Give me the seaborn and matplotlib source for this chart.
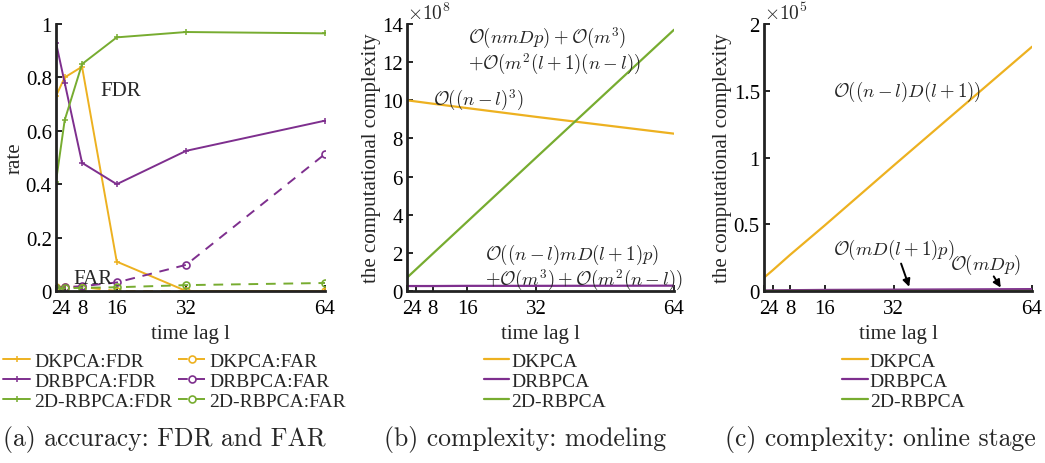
import matplotlib
matplotlib.use("Agg")
import matplotlib.pyplot as plt
import seaborn as sns

# time lag values on the x axis
lags = [2, 4, 8, 16, 32, 64]
lag_ticks = ["2", "4", "8", "16", "32", "64"]

# (a) accuracy
dkpca_fdr = [0.73, 0.80, 0.84, 0.11, 0.0, 0.0]
drbpca_fdr = [0.93, 0.78, 0.48, 0.40, 0.525, 0.638]
rbpca2d_fdr = [0.41, 0.64, 0.85, 0.95, 0.97, 0.965]
dkpca_far = [0.015, 0.016, 0.015, 0.0, 0.0, 0.0]
drbpca_far = [0.012, 0.014, 0.018, 0.032, 0.098, 0.513]
rbpca2d_far = [0.010, 0.010, 0.012, 0.014, 0.022, 0.030]

# (b) modeling complexity (x 1e8)
dkpca_model = [10.0, 9.94, 9.82, 9.59, 9.13, 8.25]
drbpca_model = [0.26, 0.26, 0.26, 0.27, 0.27, 0.28]
rbpca2d_model = [0.70, 1.12, 1.96, 3.64, 7.00, 13.70]

# (c) online complexity (x 1e5)
dkpca_online = [0.10, 0.155, 0.27, 0.49, 0.94, 1.83]
drbpca_online = [0.004, 0.005, 0.006, 0.008, 0.010, 0.014]
rbpca2d_online = [0.002, 0.002, 0.002, 0.002, 0.002, 0.002]

methods = ["DKPCA", "DRBPCA", "2D-RBPCA"]
colors = ["#EDB120", "#7E2F8E", "#77AC30"]

sns.set_style("ticks")
plt.rcParams["font.family"] = ["Liberation Serif", "DejaVu Serif"]
plt.rcParams["mathtext.fontset"] = "cm"
plt.rcParams["axes.linewidth"] = 2.0
plt.rcParams["xtick.direction"] = "in"
plt.rcParams["ytick.direction"] = "in"

fig = plt.figure(figsize=(10.45, 4.64), dpi=100)
ax_a = fig.add_axes([0.0536, 0.3707, 0.2574, 0.5754])
ax_b = fig.add_axes([0.3895, 0.3707, 0.2555, 0.5754])
ax_c = fig.add_axes([0.7311, 0.3707, 0.2565, 0.5754])


def style_axis(ax, ymax, yticks, ylabel):
    ax.set_xlim(2, 64)
    ax.set_ylim(0, ymax)
    ax.set_xticks(lags)
    ax.set_xticklabels(lag_ticks)
    ax.set_yticks(yticks)
    ax.set_yticklabels([f"{t:g}" for t in yticks])
    ax.tick_params(labelsize=15, length=4, width=1.2, colors="black")
    ax.tick_params(axis="x", pad=6)
    ax.tick_params(axis="y", pad=3)
    for s in ["top", "right"]:
        ax.spines[s].set_visible(False)
    for s in ["left", "bottom"]:
        ax.spines[s].set_color("#222222")
    ax.set_xlabel("time lag l", fontsize=15, labelpad=4)
    ax.set_ylabel(ylabel, fontsize=15, labelpad=1)


leg_kw = dict(bbox_transform=fig.transFigure, frameon=False, fontsize=14,
              labelspacing=0.12, borderpad=0, borderaxespad=0, loc="upper left")

# ---- (a)
fdr = [dkpca_fdr, drbpca_fdr, rbpca2d_fdr]
far = [dkpca_far, drbpca_far, rbpca2d_far]
for name, c, y in zip(methods, colors, fdr):
    sns.lineplot(x=lags, y=y, ax=ax_a, color=c, marker="+", markersize=5,
                 markeredgecolor=c, markeredgewidth=1.1, lw=1.4, label=f"{name}:FDR")
for name, c, y in zip(methods, colors, far):
    sns.lineplot(x=lags, y=y, ax=ax_a, color=c, marker="o", markersize=5,
                 markerfacecolor="none", markeredgecolor=c, markeredgewidth=1.2,
                 lw=1.4, linestyle=(0, (5, 4)), label=f"{name}:FAR")
style_axis(ax_a, 1, [0, 0.2, 0.4, 0.6, 0.8, 1], "rate")
ax_a.text(12.2, 0.75, "FDR", fontsize=15, va="center")
ax_a.text(5.9, 0.045, "FAR", fontsize=15, va="center")
h, l = ax_a.get_legend_handles_labels()
ax_a.legend(h, l, ncol=2, bbox_to_anchor=(0.003, 0.238), handlelength=1.4,
            handletextpad=0.2, columnspacing=0.3, **leg_kw)

# ---- (b)
model = [dkpca_model, drbpca_model, rbpca2d_model]
for name, c, y in zip(methods, colors, model):
    sns.lineplot(x=lags, y=y, ax=ax_b, color=c, lw=1.6, label=name)
style_axis(ax_b, 14, list(range(0, 15, 2)), "the computational complexity")
ax_b.text(0.0, 1.005, r"$\times10^{8}$", transform=ax_b.transAxes, fontsize=14,
          ha="left", va="bottom")
ax_b.text(16.1, 12.6, "$\\mathcal{O}(nmDp)+\\mathcal{O}(m^3)$\n"
          "$+\\mathcal{O}(m^2(l+1)(n-l))$",
          fontsize=13.5, va="center", linespacing=1.05)
ax_b.text(8.0, 10.07, r"$\mathcal{O}((n-l)^3)$", fontsize=13.5, va="center")
ax_b.text(20.2, 1.28, "$\\mathcal{O}((n-l)mD(l+1)p)$\n"
          "$+\\mathcal{O}(m^3)+\\mathcal{O}(m^2(n-l))$",
          fontsize=13.5, va="center", linespacing=1.05)
h, l = ax_b.get_legend_handles_labels()
ax_b.legend(h, l, bbox_to_anchor=(0.463, 0.238), handlelength=1.3,
            handletextpad=0.12, **leg_kw)

# ---- (c)
online = [dkpca_online, drbpca_online, rbpca2d_online]
for name, c, y in zip(methods, colors, online):
    sns.lineplot(x=lags, y=y, ax=ax_c, color=c, lw=1.6, label=name)
style_axis(ax_c, 2, [0, 0.5, 1, 1.5, 2], "the computational complexity")
ax_c.text(0.0, 1.005, r"$\times10^{5}$", transform=ax_c.transAxes, fontsize=14,
          ha="left", va="bottom")
ax_c.text(18, 1.50, r"$\mathcal{O}((n-l)D(l+1))$", fontsize=13.5, va="center")
ax_c.text(18, 0.315, r"$\mathcal{O}(mD(l+1)p)$", fontsize=13.5, va="center")
ax_c.text(45, 0.20, r"$\mathcal{O}(mDp)$", fontsize=13.5, va="center")
arrow = dict(arrowstyle="-|>", color="black", lw=1.4, mutation_scale=11)
ax_c.annotate("", xy=(35.8, 0.012), xytext=(33.5, 0.225), arrowprops=arrow)
ax_c.annotate("", xy=(57.1, 0.008), xytext=(54.8, 0.127), arrowprops=arrow)
h, l = ax_c.get_legend_handles_labels()
ax_c.legend(h, l, bbox_to_anchor=(0.806, 0.238), handlelength=1.3,
            handletextpad=0.12, **leg_kw)

# captions
cap = dict(family="cmr10", fontsize=18.5, ha="center", va="center")
fig.text(0.157, 0.052, "(a) accuracy: FDR and FAR", **cap)
fig.text(0.502, 0.052, "(b) complexity: modeling", **cap)
fig.text(0.842, 0.052, "(c) complexity: online stage", **cap)

fig.savefig("out.png", dpi=100)
